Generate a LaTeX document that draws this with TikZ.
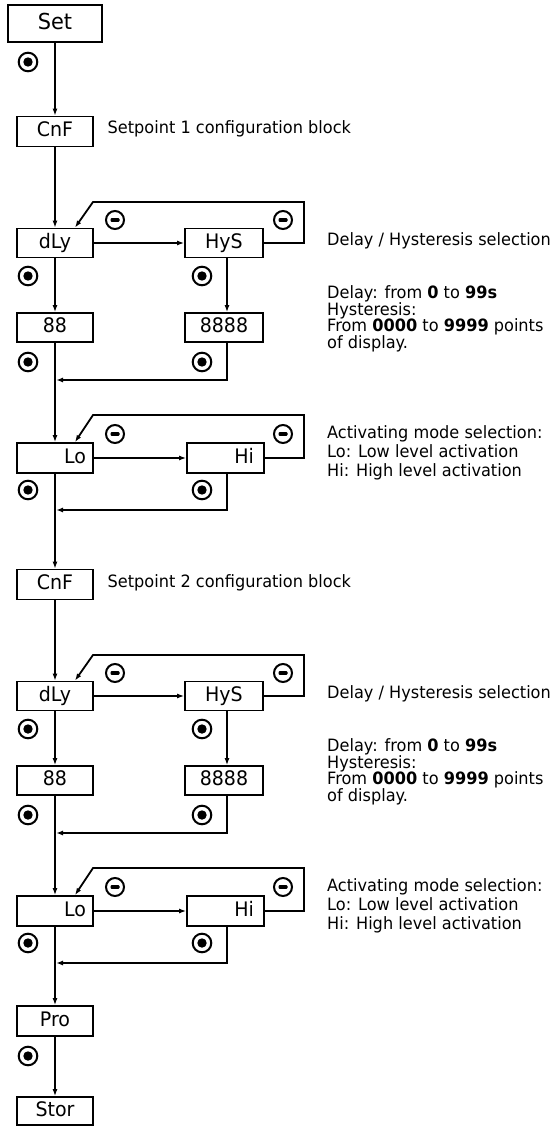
\documentclass[tikz,border=0pt]{standalone}
\usepackage{fontspec}
\setmainfont{DejaVu Sans}[FakeStretch=0.95]
\usetikzlibrary{arrows.meta}
\begin{document}
\begin{tikzpicture}[x=1pt,y=-1pt,
  box/.style={draw, line width=1.8pt, minimum width=76pt, minimum height=29pt, inner sep=0pt,
    font=\fontsize{20}{24}\selectfont, text height=14pt, text depth=4pt},
  wbox/.style={box, minimum width=78pt},
  rbox/.style={text width=#1, align=right},
  conn/.style={line width=1.8pt, -{Latex[length=7pt,width=5pt]}},
  note/.style={anchor=base west, inner sep=0pt, font=\fontsize{17}{20}\selectfont},
  okbtn/.style={circle, draw, line width=2pt, minimum size=18.6pt, inner sep=0pt,
    path picture={\fill (path picture bounding box.center) circle (4.7pt);}},
  minbtn/.style={circle, draw, line width=2pt, minimum size=18pt, inner sep=0pt,
    path picture={\fill[rounded corners=1pt] ([xshift=-4.5pt,yshift=-1.8pt]path picture bounding box.center) rectangle ([xshift=4.5pt,yshift=1.8pt]path picture bounding box.center);}},
]
\useasboundingbox (0,0) rectangle (552,1126);

\node[box, minimum width=94pt, minimum height=37pt, font=\fontsize{22}{26}\selectfont, text height=16pt, text depth=4pt] (set) at (55,23.5) {Set};
\node[okbtn] (kset) at (28,62) {};

\foreach \dy/\g/\n in {0/a/1,453/b/2}{
  \node[box, minimum height=30pt] (cnf\g) at (55,131.5+\dy) {CnF};
  \node[note] (sp\g) at (107.5,134+\dy) {Setpoint \n\ configuration block};
  \node[box] (dly\g) at (55,243+\dy) {dLy};
  \node[wbox] (hys\g) at (224,243+\dy) {HyS};
  \node[box] (dd\g) at (55,327.5+\dy) {88};
  \node[wbox] (hh\g) at (224,327.5+\dy) {8888};
  \node[box, rbox=62pt, minimum height=30pt] (lo\g) at (55,458+\dy) {Lo};
  \node[box, rbox=57pt, minimum width=77pt, minimum height=30pt] (hi\g) at (225.5,458+\dy) {Hi};

  \coordinate (ta\g) at (304,202+\dy);
  \coordinate (tb\g) at (93,202+\dy);
  \coordinate (ua\g) at (304,415+\dy);
  \coordinate (ub\g) at (93,415+\dy);
  \coordinate (ma\g) at (56,380+\dy);
  \coordinate (mb\g) at (56,510+\dy);

  \draw[conn] (cnf\g) -- (dly\g);
  \draw[conn] (dly\g) -- (hys\g);
  \draw[conn] (hys\g.east) -| (ta\g) -- (tb\g) -- ([xshift=20pt]dly\g.north);
  \draw[conn] (dly\g) -- (dd\g);
  \draw[conn] ([xshift=3pt]hys\g.south) -- ([xshift=3pt]hh\g.north);
  \draw[conn] ([xshift=3pt]hh\g.south) |- (ma\g);
  \draw[conn] (dd\g) -- (lo\g);
  \draw[conn] (lo\g) -- (hi\g);
  \draw[conn] (hi\g.east) -| (ua\g) -- (ub\g) -- ([xshift=20pt]lo\g.north);
  \draw[conn] ([xshift=1.5pt]hi\g.south) |- (mb\g);

  \node[minbtn] (m1\g) at (115,220+\dy) {};
  \node[minbtn] (m2\g) at (283,220+\dy) {};
  \node[okbtn] (k1\g) at (28,276+\dy) {};
  \node[okbtn] (k2\g) at (202,276+\dy) {};
  \node[okbtn] (k3\g) at (28,362+\dy) {};
  \node[okbtn] (k4\g) at (202,362+\dy) {};
  \node[minbtn] (m3\g) at (115,434+\dy) {};
  \node[minbtn] (m4\g) at (283,434+\dy) {};
  \node[okbtn] (k5\g) at (28,490+\dy) {};
  \node[okbtn] (k6\g) at (202,490+\dy) {};

  \node[note] (ds\g) at (327,245+\dy) {Delay / Hysteresis selection};
  \node[note] (d1\g) at (327,298.3+\dy) {Delay: from \textbf{0} to \textbf{99s}};
  \node[note] (d2\g) at (327,315+\dy) {Hysteresis:};
  \node[note] (d3\g) at (327,331.7+\dy) {From \textbf{0000} to \textbf{9999} points};
  \node[note] (d4\g) at (327,348.3+\dy) {of display.};
  \node[note] (a1\g) at (327,438.3+\dy) {Activating mode selection:};
  \node[note] (a2\g) at (327,457.3+\dy) {Lo: Low level activation};
  \node[note] (a3\g) at (327,476+\dy) {Hi: High level activation};
}

\node[box, minimum height=30pt] (pro) at (55,1021) {Pro};
\node[okbtn] (kpro) at (28,1056) {};
\node[box, minimum height=28pt] (stor) at (55,1111) {Stor};

\draw[conn] (set) -- (cnfa);
\draw[conn] (loa) -- (cnfb);
\draw[conn] (lob) -- (pro);
\draw[conn] (pro) -- (stor);
\end{tikzpicture}
\end{document}
